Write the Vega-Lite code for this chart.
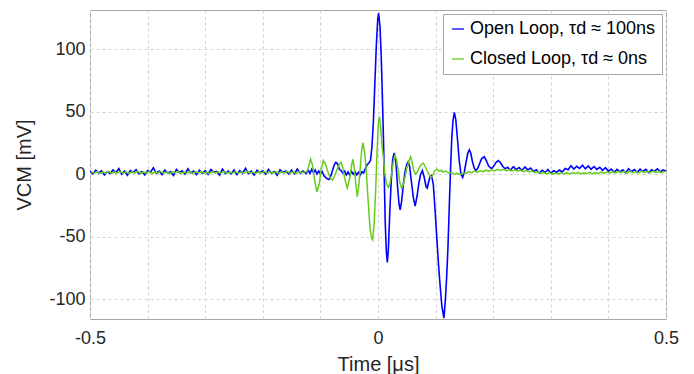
{
  "$schema": "https://vega.github.io/schema/vega-lite/v6.json",
  "width": 576,
  "height": 309,
  "autosize": {"type": "none"},
  "padding": {"left": 90, "top": 10, "right": 28, "bottom": 55},
  "background": "white",
  "config": {
    "font": "Liberation Sans",
    "view": {"stroke": "#a6a6a6", "strokeWidth": 1},
    "axis": {
      "grid": true, "gridDash": [3, 3], "gridColor": "#d4d4d4", "gridWidth": 1,
      "ticks": false, "domain": false,
      "labelFontSize": 18, "labelColor": "#262626", "labelFont": "Liberation Sans",
      "titleFontSize": 20, "titleColor": "#262626", "titleFont": "Liberation Sans", "titleFontWeight": "normal",
      "labelOverlap": false, "labelFlush": false
    }
  },
  "datasets": {
    "open": [
      {"t":-0.500,"v":2.4},{"t":-0.495,"v":0.3},{"t":-0.490,"v":3.2},{"t":-0.485,"v":1.0},{"t":-0.480,"v":2.7},{"t":-0.475,"v":-0.6},{"t":-0.470,"v":2.0},{"t":-0.465,"v":0.6},{"t":-0.460,"v":3.4},{"t":-0.455,"v":1.2},
      {"t":-0.450,"v":4.6},{"t":-0.445,"v":0.1},{"t":-0.440,"v":2.5},{"t":-0.435,"v":-0.8},{"t":-0.430,"v":2.9},{"t":-0.425,"v":1.4},{"t":-0.420,"v":3.6},{"t":-0.415,"v":0.4},{"t":-0.410,"v":2.2},{"t":-0.405,"v":-0.5},
      {"t":-0.400,"v":3.0},{"t":-0.395,"v":1.6},{"t":-0.390,"v":5.2},{"t":-0.385,"v":0.8},{"t":-0.380,"v":2.6},{"t":-0.375,"v":-0.3},{"t":-0.370,"v":3.3},{"t":-0.365,"v":0.9},{"t":-0.360,"v":2.1},{"t":-0.355,"v":-1.0},
      {"t":-0.350,"v":3.8},{"t":-0.345,"v":1.3},{"t":-0.340,"v":2.8},{"t":-0.335,"v":0.2},{"t":-0.330,"v":4.4},{"t":-0.325,"v":1.1},{"t":-0.320,"v":2.5},{"t":-0.315,"v":-0.4},{"t":-0.310,"v":3.1},{"t":-0.305,"v":0.7},
      {"t":-0.300,"v":2.9},{"t":-0.295,"v":0.0},{"t":-0.290,"v":3.7},{"t":-0.285,"v":1.5},{"t":-0.280,"v":2.3},{"t":-0.275,"v":-0.7},{"t":-0.270,"v":4.1},{"t":-0.265,"v":0.6},{"t":-0.260,"v":2.6},{"t":-0.255,"v":0.3},
      {"t":-0.250,"v":3.4},{"t":-0.245,"v":-0.2},{"t":-0.240,"v":2.8},{"t":-0.235,"v":1.0},{"t":-0.230,"v":4.8},{"t":-0.225,"v":0.5},{"t":-0.220,"v":2.4},{"t":-0.215,"v":-0.6},{"t":-0.210,"v":3.2},{"t":-0.205,"v":1.2},
      {"t":-0.200,"v":2.7},{"t":-0.195,"v":0.1},{"t":-0.190,"v":3.9},{"t":-0.185,"v":0.8},{"t":-0.180,"v":2.2},{"t":-0.175,"v":-0.9},{"t":-0.170,"v":3.5},{"t":-0.165,"v":1.4},{"t":-0.160,"v":2.6},{"t":-0.155,"v":0.2},
      {"t":-0.150,"v":3.3},{"t":-0.145,"v":0.4},{"t":-0.140,"v":4.2},{"t":-0.135,"v":0.9},{"t":-0.130,"v":2.5},{"t":-0.125,"v":0.6},
      {"t":-0.121,"v":3.0},{"t":-0.118,"v":0.6},{"t":-0.115,"v":4.0},{"t":-0.112,"v":1.2},{"t":-0.109,"v":3.4},{"t":-0.106,"v":0.2},{"t":-0.103,"v":2.6},{"t":-0.100,"v":0.5},{"t":-0.097,"v":2.2},{"t":-0.094,"v":-1.0},
      {"t":-0.091,"v":-2.5},{"t":-0.088,"v":-3.6},{"t":-0.085,"v":-4.2},{"t":-0.082,"v":-1.5},{"t":-0.079,"v":3.0},{"t":-0.076,"v":7.5},{"t":-0.073,"v":9.5},{"t":-0.070,"v":8.0},{"t":-0.067,"v":4.0},{"t":-0.064,"v":2.8},
      {"t":-0.061,"v":1.0},{"t":-0.058,"v":2.6},{"t":-0.055,"v":-0.6},{"t":-0.052,"v":1.8},{"t":-0.049,"v":-0.8},{"t":-0.046,"v":2.4},{"t":-0.043,"v":0.0},{"t":-0.040,"v":2.0},{"t":-0.037,"v":-0.5},{"t":-0.034,"v":1.6},
      {"t":-0.031,"v":-0.8},{"t":-0.028,"v":2.0},{"t":-0.025,"v":1.0},{"t":-0.022,"v":4.5},{"t":-0.019,"v":7.5},{"t":-0.016,"v":9.0},{"t":-0.013,"v":11.0},{"t":-0.0105,"v":22},{"t":-0.008,"v":42},{"t":-0.0055,"v":72},
      {"t":-0.003,"v":102},{"t":-0.0005,"v":124},{"t":0.001,"v":129},{"t":0.0035,"v":118},{"t":0.0055,"v":95},{"t":0.007,"v":72},{"t":0.008,"v":55},{"t":0.0095,"v":28},{"t":0.011,"v":-5},{"t":0.0125,"v":-38},
      {"t":0.0145,"v":-62},{"t":0.0162,"v":-70.5},{"t":0.018,"v":-60},{"t":0.0205,"v":-30},{"t":0.023,"v":-5},{"t":0.0255,"v":12},{"t":0.028,"v":17},{"t":0.031,"v":10},{"t":0.034,"v":-10},{"t":0.0365,"v":-24},
      {"t":0.0385,"v":-28.5},{"t":0.041,"v":-22},{"t":0.044,"v":-8},{"t":0.047,"v":2},{"t":0.050,"v":8},{"t":0.0525,"v":10},{"t":0.055,"v":6},{"t":0.058,"v":-6},{"t":0.0615,"v":-19},{"t":0.0645,"v":-25.5},
      {"t":0.068,"v":-17},{"t":0.071,"v":-7},{"t":0.074,"v":0},{"t":0.077,"v":3},{"t":0.080,"v":-2},{"t":0.0835,"v":-10},{"t":0.0855,"v":-11},{"t":0.088,"v":-6},{"t":0.0905,"v":-2},{"t":0.093,"v":-1},
      {"t":0.096,"v":-8},{"t":0.099,"v":-28},{"t":0.102,"v":-50},{"t":0.105,"v":-72},{"t":0.108,"v":-90},{"t":0.111,"v":-106},{"t":0.1145,"v":-115},{"t":0.117,"v":-100},{"t":0.119,"v":-84},{"t":0.1215,"v":-58},
      {"t":0.124,"v":-22},{"t":0.126,"v":5},{"t":0.128,"v":28},{"t":0.130,"v":42},{"t":0.1325,"v":49.5},{"t":0.135,"v":44},{"t":0.138,"v":28},{"t":0.141,"v":11},{"t":0.144,"v":0},{"t":0.147,"v":-2.5},
      {"t":0.150,"v":2},{"t":0.153,"v":10},{"t":0.156,"v":17},{"t":0.1585,"v":19.5},{"t":0.161,"v":17},{"t":0.164,"v":10},{"t":0.167,"v":5},{"t":0.170,"v":3},{"t":0.173,"v":4.5},{"t":0.176,"v":8},
      {"t":0.180,"v":12.5},{"t":0.1845,"v":14},{"t":0.188,"v":11},{"t":0.192,"v":6.5},{"t":0.197,"v":4.5},{"t":0.201,"v":6.5},{"t":0.205,"v":9.5},{"t":0.209,"v":11},{"t":0.213,"v":9},{"t":0.217,"v":6},
      {"t":0.221,"v":4.5},
      {"t":0.225,"v":5.6},{"t":0.230,"v":3.2},{"t":0.235,"v":6.1},{"t":0.240,"v":3.8},{"t":0.245,"v":5.4},{"t":0.250,"v":2.9},{"t":0.255,"v":5.9},{"t":0.260,"v":3.5},{"t":0.265,"v":5.0},{"t":0.270,"v":2.2},
      {"t":0.275,"v":3.6},{"t":0.280,"v":1.0},{"t":0.285,"v":3.2},{"t":0.290,"v":1.4},{"t":0.295,"v":3.8},{"t":0.300,"v":0.9},{"t":0.305,"v":2.9},{"t":0.310,"v":1.6},{"t":0.315,"v":3.4},{"t":0.320,"v":1.8},
      {"t":0.325,"v":4.6},{"t":0.330,"v":3.6},{"t":0.335,"v":6.8},{"t":0.340,"v":4.2},{"t":0.345,"v":6.4},{"t":0.350,"v":4.6},{"t":0.355,"v":7.2},{"t":0.360,"v":4.4},{"t":0.365,"v":6.6},{"t":0.370,"v":4.0},
      {"t":0.375,"v":6.2},{"t":0.380,"v":3.9},{"t":0.385,"v":5.6},{"t":0.390,"v":3.1},{"t":0.395,"v":5.2},{"t":0.400,"v":2.5},{"t":0.405,"v":4.2},{"t":0.410,"v":1.6},{"t":0.415,"v":3.9},{"t":0.420,"v":1.9},
      {"t":0.425,"v":3.5},{"t":0.430,"v":1.2},{"t":0.435,"v":4.4},{"t":0.440,"v":2.0},{"t":0.445,"v":3.7},{"t":0.450,"v":1.5},{"t":0.455,"v":4.1},{"t":0.460,"v":2.2},{"t":0.465,"v":3.9},{"t":0.470,"v":1.4},
      {"t":0.475,"v":3.6},{"t":0.480,"v":2.5},{"t":0.485,"v":4.3},{"t":0.490,"v":1.8},{"t":0.495,"v":3.5},{"t":0.500,"v":2.6}
    ],
    "closed": [
      {"t":-0.4975,"v":1.9},{"t":-0.4925,"v":0.8},{"t":-0.4875,"v":2.1},{"t":-0.4825,"v":0.7},{"t":-0.4775,"v":1.8},{"t":-0.4725,"v":0.9},{"t":-0.4675,"v":2.3},{"t":-0.4625,"v":0.6},{"t":-0.4575,"v":1.7},{"t":-0.4525,"v":1.1},
      {"t":-0.4475,"v":2.2},{"t":-0.4425,"v":0.8},{"t":-0.4375,"v":1.9},{"t":-0.4325,"v":0.5},{"t":-0.4275,"v":2.0},{"t":-0.4225,"v":1.1},{"t":-0.4175,"v":2.4},{"t":-0.4125,"v":0.7},{"t":-0.4075,"v":1.8},{"t":-0.4025,"v":1.0},
      {"t":-0.3975,"v":2.1},{"t":-0.3925,"v":0.6},{"t":-0.3875,"v":1.9},{"t":-0.3825,"v":0.9},{"t":-0.3775,"v":2.3},{"t":-0.3725,"v":0.8},{"t":-0.3675,"v":1.7},{"t":-0.3625,"v":0.5},{"t":-0.3575,"v":2.0},{"t":-0.3525,"v":1.2},
      {"t":-0.3475,"v":2.2},{"t":-0.3425,"v":0.7},{"t":-0.3375,"v":1.8},{"t":-0.3325,"v":0.9},{"t":-0.3275,"v":2.4},{"t":-0.3225,"v":0.6},{"t":-0.3175,"v":1.9},{"t":-0.3125,"v":1.0},{"t":-0.3075,"v":2.1},{"t":-0.3025,"v":0.7},
      {"t":-0.2975,"v":1.8},{"t":-0.2925,"v":0.5},{"t":-0.2875,"v":2.2},{"t":-0.2825,"v":1.1},{"t":-0.2775,"v":2.0},{"t":-0.2725,"v":0.8},{"t":-0.2675,"v":2.3},{"t":-0.2625,"v":0.6},{"t":-0.2575,"v":1.7},{"t":-0.2525,"v":0.9},
      {"t":-0.2475,"v":2.1},{"t":-0.2425,"v":0.7},{"t":-0.2375,"v":1.9},{"t":-0.2325,"v":1.0},{"t":-0.2275,"v":2.4},{"t":-0.2225,"v":0.8},{"t":-0.2175,"v":1.8},{"t":-0.2125,"v":0.6},{"t":-0.2075,"v":2.0},{"t":-0.2025,"v":1.1},
      {"t":-0.1975,"v":2.2},{"t":-0.1925,"v":0.7},{"t":-0.1875,"v":1.9},{"t":-0.1825,"v":0.9},{"t":-0.1775,"v":2.1},{"t":-0.1725,"v":0.6},{"t":-0.1675,"v":1.8},{"t":-0.1625,"v":1.0},{"t":-0.1575,"v":2.3},{"t":-0.1525,"v":0.8},
      {"t":-0.1475,"v":1.9},{"t":-0.1425,"v":0.7},{"t":-0.1375,"v":2.0},{"t":-0.1325,"v":1.2},{"t":-0.1275,"v":1.8},
      {"t":-0.1235,"v":2.0},{"t":-0.1205,"v":6.0},{"t":-0.117,"v":12.0},{"t":-0.1135,"v":7.0},{"t":-0.110,"v":-5.0},{"t":-0.106,"v":-14.0},{"t":-0.102,"v":-8.0},{"t":-0.099,"v":3.0},{"t":-0.095,"v":11.0},{"t":-0.091,"v":8.0},
      {"t":-0.087,"v":2.0},{"t":-0.083,"v":-3.0},{"t":-0.079,"v":-4.6},{"t":-0.075,"v":-1.0},{"t":-0.071,"v":4.0},{"t":-0.067,"v":8.0},{"t":-0.064,"v":9.6},{"t":-0.061,"v":5.0},{"t":-0.058,"v":-3.0},{"t":-0.0535,"v":-11.0},
      {"t":-0.049,"v":-3.0},{"t":-0.046,"v":7.0},{"t":-0.0435,"v":12.0},{"t":-0.041,"v":4.0},{"t":-0.038,"v":-10.0},{"t":-0.036,"v":-18.0},{"t":-0.033,"v":-8.0},{"t":-0.030,"v":10.0},{"t":-0.028,"v":21.0},{"t":-0.0262,"v":25.3},
      {"t":-0.023,"v":17.0},{"t":-0.020,"v":0.0},{"t":-0.017,"v":-22.0},{"t":-0.014,"v":-42.0},{"t":-0.0115,"v":-50.5},{"t":-0.0092,"v":-52.5},{"t":-0.0065,"v":-38.0},{"t":-0.004,"v":-12.0},{"t":-0.0015,"v":20.0},{"t":0.0008,"v":42.0},
      {"t":0.0025,"v":46.0},{"t":0.0045,"v":38.0},{"t":0.0068,"v":24.0},{"t":0.0092,"v":14.0},{"t":0.012,"v":0.0},{"t":0.015,"v":-8.0},{"t":0.018,"v":-10.5},{"t":0.021,"v":-7.0},{"t":0.024,"v":2.0},{"t":0.027,"v":11.0},
      {"t":0.0295,"v":15.0},{"t":0.032,"v":12.0},{"t":0.035,"v":3.0},{"t":0.038,"v":-7.0},{"t":0.041,"v":-11.0},{"t":0.044,"v":-8.0},{"t":0.047,"v":-2.0},{"t":0.050,"v":5.0},{"t":0.054,"v":11.0},{"t":0.0567,"v":14.0},
      {"t":0.059,"v":10.0},{"t":0.062,"v":3.0},{"t":0.065,"v":0.0},{"t":0.068,"v":1.5},{"t":0.072,"v":5.5},{"t":0.0755,"v":8.0},{"t":0.0787,"v":9.0},{"t":0.082,"v":6.0},{"t":0.086,"v":2.0},{"t":0.090,"v":-1.2},
      {"t":0.093,"v":-2.4},{"t":0.096,"v":0.0},{"t":0.099,"v":3.0},{"t":0.102,"v":4.0},{"t":0.106,"v":2.5},{"t":0.110,"v":3.2},
      {"t":0.1125,"v":1.8},{"t":0.1175,"v":2.6},{"t":0.1225,"v":1.0},{"t":0.1275,"v":1.6},{"t":0.1325,"v":0.0},{"t":0.1375,"v":0.8},{"t":0.1425,"v":-0.4},{"t":0.1475,"v":0.9},{"t":0.1525,"v":0.6},{"t":0.1575,"v":2.0},
      {"t":0.1625,"v":1.3},{"t":0.1675,"v":2.5},{"t":0.1725,"v":1.6},{"t":0.1775,"v":2.8},{"t":0.1825,"v":2.0},{"t":0.1875,"v":3.3},{"t":0.1925,"v":2.3},{"t":0.1975,"v":3.5},{"t":0.2025,"v":2.6},{"t":0.2075,"v":3.9},
      {"t":0.2125,"v":3.0},{"t":0.2175,"v":4.0},{"t":0.2225,"v":2.9},{"t":0.2275,"v":3.8},{"t":0.2325,"v":2.6},{"t":0.2375,"v":3.6},{"t":0.2425,"v":2.4},{"t":0.2475,"v":3.3},{"t":0.2525,"v":2.1},{"t":0.2575,"v":3.0},
      {"t":0.2625,"v":1.8},{"t":0.2675,"v":2.6},{"t":0.2725,"v":1.2},{"t":0.2775,"v":2.1},{"t":0.2825,"v":0.6},{"t":0.2875,"v":1.5},{"t":0.2925,"v":0.2},{"t":0.2975,"v":1.3},{"t":0.3025,"v":0.1},{"t":0.3075,"v":1.2},
      {"t":0.3125,"v":0.0},{"t":0.3175,"v":1.4},{"t":0.3225,"v":0.3},{"t":0.3275,"v":1.1},{"t":0.3325,"v":0.2},{"t":0.3375,"v":1.3},{"t":0.3425,"v":0.4},{"t":0.3475,"v":1.5},{"t":0.3525,"v":0.3},{"t":0.3575,"v":1.2},
      {"t":0.3625,"v":0.5},{"t":0.3675,"v":1.6},{"t":0.3725,"v":0.4},{"t":0.3775,"v":1.3},{"t":0.3825,"v":0.6},{"t":0.3875,"v":1.7},{"t":0.3925,"v":0.7},{"t":0.3975,"v":1.9},{"t":0.4025,"v":0.9},{"t":0.4075,"v":2.2},
      {"t":0.4125,"v":1.1},{"t":0.4175,"v":2.4},{"t":0.4225,"v":1.2},{"t":0.4275,"v":2.3},{"t":0.4325,"v":1.0},{"t":0.4375,"v":2.5},{"t":0.4425,"v":1.3},{"t":0.4475,"v":2.2},{"t":0.4525,"v":1.1},{"t":0.4575,"v":2.6},
      {"t":0.4625,"v":1.4},{"t":0.4675,"v":2.3},{"t":0.4725,"v":1.2},{"t":0.4775,"v":2.5},{"t":0.4825,"v":1.5},{"t":0.4875,"v":2.4},{"t":0.4925,"v":1.3},{"t":0.4975,"v":2.2}
    ]
  },
  "encoding": {
    "x": {
      "field": "t", "type": "quantitative",
      "scale": {"domain": [-0.5, 0.5], "nice": false, "zero": false},
      "title": "Time [μs]",
      "axis": {
        "values": [-0.5, -0.4, -0.3, -0.2, -0.1, 0, 0.1, 0.2, 0.3, 0.4, 0.5],
        "labelExpr": "datum.value == 0 ? '0' : (datum.value < -0.49 ? '-0.5' : (datum.value > 0.49 ? '0.5' : ''))",
        "labelPadding": 10, "titlePadding": 7
      }
    },
    "y": {
      "field": "v", "type": "quantitative",
      "scale": {"domain": [-115.8, 131.4], "nice": false, "zero": false},
      "title": "VCM [mV]",
      "axis": {
        "values": [-100, -50, 0, 50, 100],
        "labelExpr": "datum.value < 0 ? '-' + abs(datum.value) : '' + datum.value",
        "labelPadding": 5, "titlePadding": 14
      }
    }
  },
  "layer": [
    {
      "data": {"name": "open"},
      "mark": {"type": "line", "strokeWidth": 1.6, "clip": true},
      "encoding": {
        "color": {
          "datum": "Open Loop, τd ≈ 100ns",
          "scale": {"domain": ["Open Loop, τd ≈ 100ns", "Closed Loop, τd ≈ 0ns"], "range": ["#0000ff", "#66cc1a"]},
          "legend": {
            "title": null, "orient": "top-right", "offset": 4,
            "symbolType": "stroke", "symbolSize": 144, "symbolStrokeWidth": 1.3,
            "labelFontSize": 18, "labelFont": "Liberation Sans", "labelColor": "#000000", "labelOffset": 3, "labelLimit": 400,
            "strokeColor": "#a6a6a6", "fillColor": "white", "padding": 6, "rowPadding": 12
          }
        }
      }
    },
    {
      "data": {"name": "closed"},
      "mark": {"type": "line", "strokeWidth": 1.5, "clip": true},
      "encoding": {
        "color": {"datum": "Closed Loop, τd ≈ 0ns"}
      }
    }
  ]
}
